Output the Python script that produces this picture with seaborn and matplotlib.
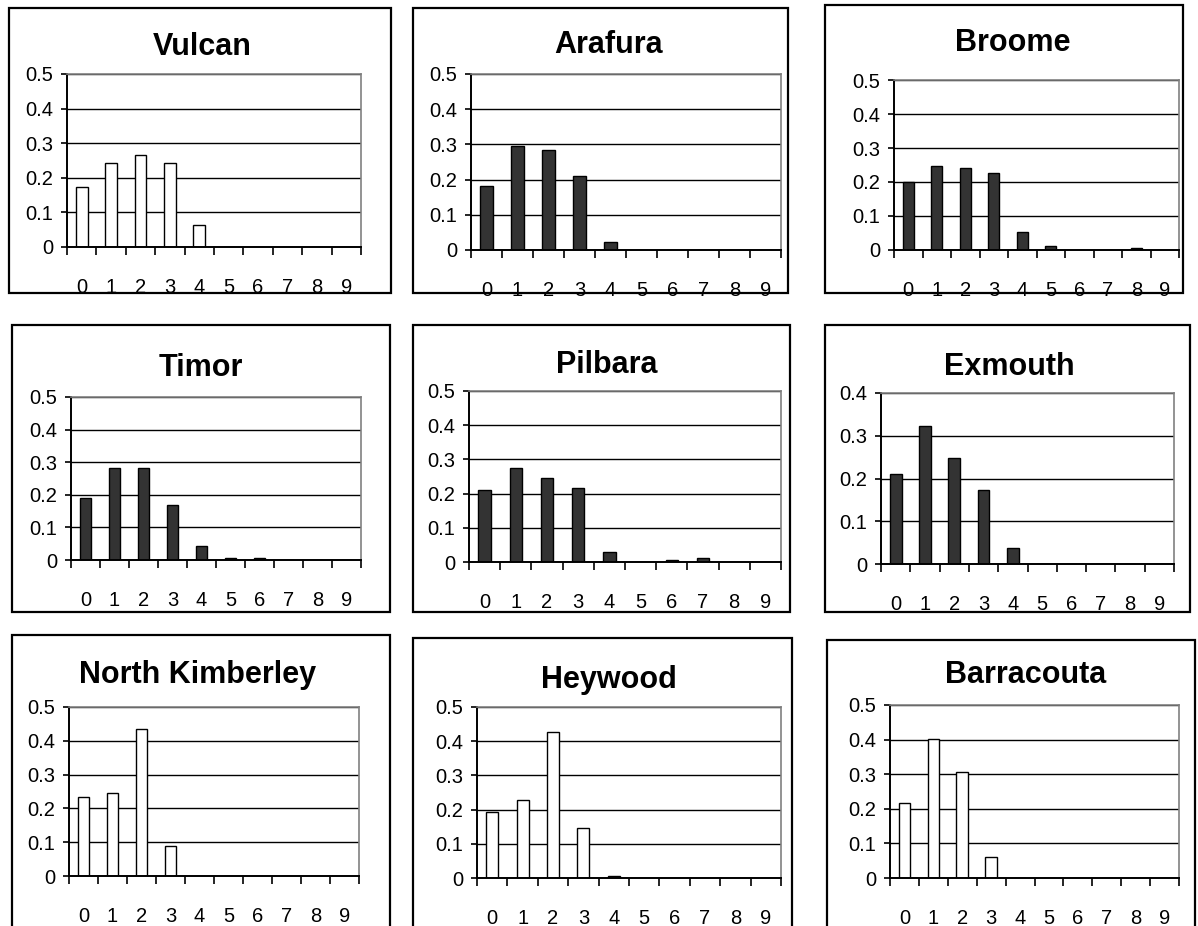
import matplotlib
matplotlib.use("Agg")
import matplotlib.pyplot as plt
from matplotlib.patches import Rectangle
from matplotlib.ticker import FixedLocator
import seaborn as sns

sns.set_theme(style="white")
plt.rcParams["font.family"] = ["Liberation Sans", "DejaVu Sans"]

# Number of events per class (0-9) and their relative frequency in each region
classes = ["0", "1", "2", "3", "4", "5", "6", "7", "8", "9"]

vulcan = [0.174, 0.243, 0.267, 0.243, 0.065, 0, 0, 0, 0, 0]
arafura = [0.182, 0.295, 0.284, 0.210, 0.022, 0, 0, 0, 0, 0]
broome = [0.201, 0.248, 0.242, 0.225, 0.054, 0.012, 0.001, 0.001, 0.007, 0]
timor = [0.189, 0.281, 0.281, 0.170, 0.043, 0.005, 0.005, 0, 0, 0]
pilbara = [0.210, 0.274, 0.245, 0.216, 0.029, 0, 0.005, 0.012, 0, 0]
exmouth = [0.210, 0.322, 0.247, 0.173, 0.037, 0.001, 0, 0, 0, 0]
north_kimberley = [0.234, 0.247, 0.436, 0.088, 0, 0, 0, 0, 0, 0]
heywood = [0.193, 0.228, 0.427, 0.146, 0.005, 0, 0, 0, 0, 0]
barracouta = [0.218, 0.403, 0.305, 0.062, 0.001, 0, 0, 0, 0, 0]

titles = ["Vulcan", "Arafura", "Broome",
          "Timor", "Pilbara", "Exmouth",
          "North Kimberley", "Heywood", "Barracouta"]
series = [vulcan, arafura, broome, timor, pilbara, exmouth,
          north_kimberley, heywood, barracouta]
fills = ["white", "#333333", "#333333",
         "#333333", "#333333", "#333333",
         "white", "white", "white"]
ymax = [0.5, 0.5, 0.5, 0.5, 0.5, 0.4, 0.5, 0.5, 0.5]

W, H = 1198, 926

# Layout in pixels: plot area (x0, x1, y_top, y_zero), frame (x0, x1, y0, y1), title centre (x, y)
plot_px = [(67, 361, 74, 247), (471, 781, 74, 250), (894, 1179, 80, 250),
           (71, 361, 397, 560), (469, 781, 391, 562), (881, 1174, 393, 564),
           (69, 359, 707, 876), (477, 781, 707, 878), (890, 1179, 705, 878)]
frame_px = [(9, 391, 8, 293), (413, 788, 8, 293), (825, 1183, 5, 293),
            (12, 390, 325, 612), (413, 790, 325, 612), (825, 1190, 325, 612),
            (12, 390, 635, 960), (413, 792, 638, 960), (827, 1195, 640, 960)]
title_px = [(202, 47), (609, 45), (1013, 43),
            (201, 368), (607, 365), (1009, 367),
            (198, 675), (609, 680), (1026, 675)]

fig = plt.figure(figsize=(W / 100, H / 100), dpi=100)
fig.patch.set_facecolor("white")

for i in range(9):
    fx0, fx1, fy0, fy1 = frame_px[i]
    fig.patches.append(Rectangle((fx0 / W, 1 - fy1 / H), (fx1 - fx0) / W, (fy1 - fy0) / H,
                                 transform=fig.transFigure, fill=False,
                                 edgecolor="black", linewidth=1.6, zorder=0))
    tx, ty = title_px[i]
    fig.text(tx / W, 1 - ty / H, titles[i], ha="center", va="center",
             fontsize=22, fontweight="bold", color="black")

    px0, px1, pt, pz = plot_px[i]
    ax = fig.add_axes([px0 / W, 1 - pz / H, (px1 - px0) / W, (pz - pt) / H])
    sns.barplot(x=classes, y=series[i], color=fills[i], saturation=1,
                edgecolor="black", linewidth=1.0, width=0.4, ax=ax)
    ax.set_xlim(-0.5, 9.5)
    ax.set_ylim(0, ymax[i])
    steps = int(round(ymax[i] / 0.1))
    yt = [k / 10 for k in range(steps + 1)]
    ax.set_yticks(yt)
    ax.set_yticklabels(["0"] + [f"{v:.1f}" for v in yt[1:]])
    ax.set_xticks(range(10))
    ax.set_xticklabels(classes)
    ax.xaxis.set_minor_locator(FixedLocator([k - 0.5 for k in range(11)]))
    ax.tick_params(axis="x", which="major", length=0, pad=22, labelsize=14.5, colors="black")
    ax.tick_params(axis="x", which="minor", bottom=True, length=6, width=1.2,
                   direction="out", color="black")
    ax.tick_params(axis="y", which="major", left=True, length=4.5, width=1.2,
                   direction="out", pad=5.5, labelsize=14.5, colors="black")
    ax.set_xlabel("")
    ax.set_ylabel("")
    ax.set_axisbelow(True)
    ax.yaxis.grid(True, color="black", linewidth=1.0)
    ax.xaxis.grid(False)
    ax.set_facecolor("white")
    for side in ("left", "bottom"):
        ax.spines[side].set_color("black")
        ax.spines[side].set_linewidth(1.4)
    for side in ("top", "right"):
        ax.spines[side].set_color("#808080")
        ax.spines[side].set_linewidth(1.2)
        ax.spines[side].set_visible(True)

fig.savefig("out.png", dpi=100, facecolor="white")
